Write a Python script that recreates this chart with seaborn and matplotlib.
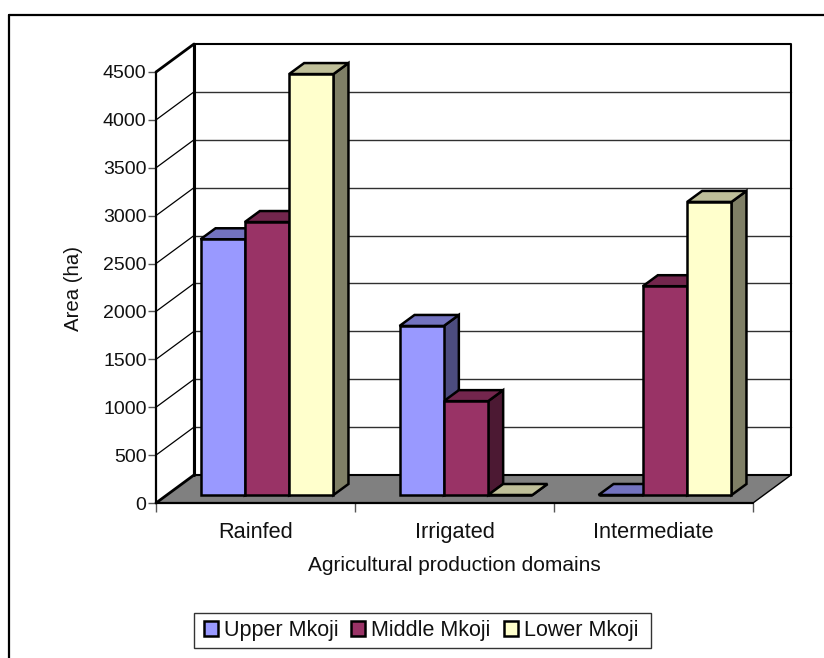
# 仿 Excel 三维簇状柱形图：seaborn 画正面，侧面和顶面按柱子位置补上

import pandas as pd
import seaborn as sns
import matplotlib.pyplot as plt
from matplotlib.patches import Polygon, Rectangle
from matplotlib.transforms import Affine2D

domains = ['Rainfed', 'Irrigated', 'Intermediate']
regions = ['Upper Mkoji', 'Middle Mkoji', 'Lower Mkoji']
upper_mkoji = [2670, 1765, 0]
middle_mkoji = [2850, 980, 2180]
lower_mkoji = [4395, 0, 3060]
y_ticks = [0, 500, 1000, 1500, 2000, 2500, 3000, 3500, 4000, 4500]

front_colors = ['#9999FF', '#993366', '#FFFFCC']
top_colors = ['#7373BF', '#73264D', '#BFBF99']
side_colors = ['#4C4C7F', '#4C1933', '#7F7F66']

W, H = 824, 658


def px_axes(x0, y_top, x1, y_bottom):
    """
    按参考图的像素位置建坐标轴
    """
    return [x0 / W, 1 - y_bottom / H, (x1 - x0) / W, (y_bottom - y_top) / H]


def shift(ax, dx, dy):
    """
    数据坐标平移若干像素，用来做假三维
    """
    return ax.transData + Affine2D().translate(dx, dy)


def draw_walls(ax):
    x0, x1 = ax.get_xlim()
    y0, y1 = ax.get_ylim()
    back = shift(ax, 38, 28)
    ddx = 38 * (x1 - x0) / 597
    ddy = 28 * 4500 / 431
    # 地面
    ax.add_patch(Polygon([(x0, y0), (x1, y0), (x1 + ddx, y0 + ddy), (x0 + ddx, y0 + ddy)],
                         fc='#808080', ec='none', zorder=1, clip_on=False))
    # 网格线：后墙 + 左墙斜线
    for t in y_ticks[1:-1]:
        ax.plot([x0, x1], [t, t], transform=back, color='#303030', lw=1, zorder=1.5, clip_on=False)
        ax.plot([x0, x0 + ddx], [t, t + ddy], color='black', lw=0.9, zorder=1.5, clip_on=False)
    # 后墙边框
    ax.plot([x0, x0, x1, x1, x0], [y0, y1, y1, y0, y0], transform=back, color='black',
            lw=1.5, zorder=1.6, clip_on=False)
    ax.plot([x0, x0], [y0, y1], transform=back, color='black', lw=2.2, zorder=1.6, clip_on=False)
    # 左墙上下两条斜边和底面右边、前边
    ax.plot([x0, x0 + ddx], [y1, y1 + ddy], color='black', lw=2, zorder=1.6, clip_on=False)
    ax.plot([x0, x0 + ddx], [y0, y0 + ddy], color='black', lw=2, zorder=1.6, clip_on=False)
    ax.plot([x1, x1 + ddx], [y0, y0 + ddy], color='black', lw=1, zorder=1.6, clip_on=False)
    ax.plot([x0, x1], [y0, y0], color='black', lw=1.6, zorder=1.6, clip_on=False)
    ax.plot([x0, x0], [y0, y1], color='black', lw=1.6, zorder=1.6, clip_on=False)


def draw_bar_faces(ax):
    """
    柱子本身来自 seaborn，这里把它挪到进深中间，并补顶面和右侧面
    """
    off = shift(ax, 11.5, 8)
    dx_data = 15 * 3 / 597
    dy_data = 11 * 4500 / 431
    for i, cont in enumerate(ax.containers):
        for bar in cont:
            x = bar.get_x()
            w = bar.get_width()
            h = bar.get_height()
            bar.set_transform(off)
            bar.set_zorder(4)
            bar.set_clip_on(False)
            ax.add_patch(Polygon([(x + w, 0), (x + w + dx_data, dy_data), (x + w + dx_data, h + dy_data),
                                  (x + w, h)], transform=off, fc=side_colors[i], ec='black', lw=1.8,
                                 zorder=3, clip_on=False))
            ax.add_patch(Polygon([(x, h), (x + dx_data, h + dy_data), (x + w + dx_data, h + dy_data),
                                  (x + w, h)], transform=off, fc=top_colors[i], ec='black', lw=1.8,
                                 zorder=3, clip_on=False))


if __name__ == '__main__':
    sns.set_theme(style='white')
    plt.rcParams['font.family'] = ['Liberation Sans', 'DejaVu Sans']

    df = pd.DataFrame({'domain': domains * 3,
                       'region': [r for r in regions for _ in domains],
                       'area': upper_mkoji + middle_mkoji + lower_mkoji})

    fig = plt.figure(figsize=(W / 100, H / 100), dpi=100)
    ax = fig.add_axes(px_axes(156, 72, 753, 503))

    sns.barplot(data=df, x='domain', y='area', hue='region', hue_order=regions, palette=front_colors,
                saturation=1, width=0.668, gap=0, edgecolor='black', linewidth=1.8, ax=ax, legend=False)
    ax.set_xlim(-0.5, 2.5)
    ax.set_ylim(0, 4500)
    ax.patch.set_visible(False)
    sns.despine(ax=ax, left=True, bottom=True, top=True, right=True)

    draw_walls(ax)
    draw_bar_faces(ax)

    ax.set_yticks(y_ticks)
    ax.set_xticks([-0.5, 0.5, 1.5, 2.5], minor=True)
    ax.tick_params(axis='y', which='major', left=True, length=5.8, width=1, color='#555555',
                   labelsize=14, labelcolor='#111111', pad=1)
    ax.tick_params(axis='x', which='major', bottom=False, labelsize=15.7, labelcolor='#111111', pad=8)
    ax.tick_params(axis='x', which='minor', bottom=True, length=6.5, width=1, color='#555555')
    ax.set_ylabel('Area (ha)', fontsize=14.7, color='#111111', labelpad=14, y=0.497)
    ax.set_xlabel('Agricultural production domains', fontsize=15, color='#111111', labelpad=9)

    # 图例框单独画，里面的内容用 legend
    fig.add_artist(Rectangle((194 / W, 1 - 648 / H), 457 / W, 35 / H, transform=fig.transFigure,
                             fc='white', ec='#333333', lw=1))
    handles = [Rectangle((0, 0), 1, 1, fc=c, ec='black', lw=1.8) for c in front_colors]
    fig.legend(handles, regions, loc='center', bbox_to_anchor=(421 / W, 1 - 630.5 / H), ncol=3, fontsize=15.5,
               frameon=False, handlelength=0.65, handleheight=0.65, handletextpad=0.28, columnspacing=0.6,
               borderpad=0.3, labelcolor='#111111')

    # 外框：只有上边和左边
    fig.add_artist(plt.Line2D([8.5 / W, 1], [1 - 14.5 / H, 1 - 14.5 / H], color='black', lw=1.6))
    fig.add_artist(plt.Line2D([8.5 / W, 8.5 / W], [0, 1 - 14.5 / H], color='black', lw=1.6))

    plt.savefig('out.png', dpi=100)
